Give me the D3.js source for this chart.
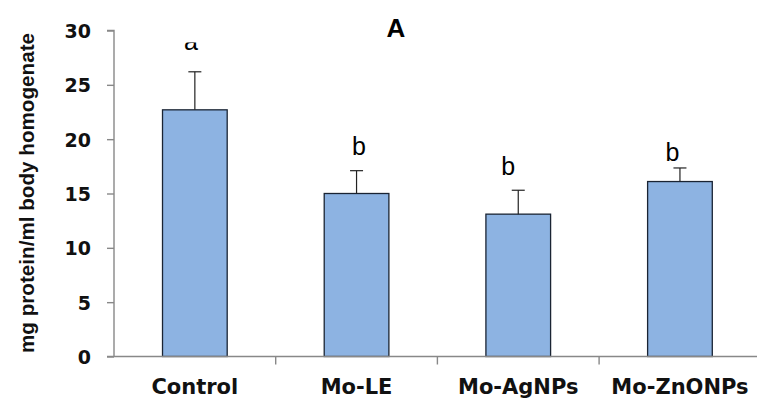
<!DOCTYPE html>
<html>
<head>
<meta charset="utf-8">
<script src="https://cdn.jsdelivr.net/npm/d3@7"></script>
<style>
  html, body { margin: 0; padding: 0; background: #fff; }
  svg { display: block; }
</style>
</head>
<body>
<svg id="chart" width="757" height="398"></svg>
<script>
// ---- data ----
const categories = ["Control", "Mo-LE", "Mo-AgNPs", "Mo-ZnONPs"];
const means = [22.7, 15.0, 13.1, 16.1];
const errors = [3.5, 2.1, 2.2, 1.25];
const letters = ["a", "b", "b", "b"];
const letterLevels = [28.25, 18.5, 16.7, 18.0];
const yTicks = [0, 5, 10, 15, 20, 25, 30];
const title = "A";
const yTitle = "mg protein/ml body homogenate";

// ---- layout ----
const W = 757, H = 398;
const axisX = 114, baseY = 356.5, topY = 30.5;
const step = 161.7;
const letterDx = [-4, 2.5, -10, -7.5];

const svg = d3.select("#chart");

const x = d3.scaleBand()
  .domain(categories)
  .range([axisX, axisX + step * categories.length])
  .paddingInner(0.6)
  .paddingOuter(0.3);

const y = d3.scaleLinear().domain([0, 30]).range([baseY, topY]);

// bars
svg.append("g").selectAll("rect")
  .data(categories)
  .join("rect")
  .attr("x", d => x(d))
  .attr("y", (d, i) => y(means[i]))
  .attr("width", x.bandwidth())
  .attr("height", (d, i) => baseY - y(means[i]))
  .attr("fill", "#8DB3E2")
  .attr("stroke", "#1a2433")
  .attr("stroke-width", 1.3);

// error bars
const eg = svg.append("g").attr("stroke", "#222").attr("stroke-width", 1.2);
categories.forEach((c, i) => {
  const cx = x(c) + x.bandwidth() / 2;
  eg.append("line").attr("x1", cx).attr("x2", cx)
    .attr("y1", y(means[i])).attr("y2", y(means[i] + errors[i]));
  eg.append("line").attr("x1", cx - 6.5).attr("x2", cx + 6.5)
    .attr("y1", y(means[i] + errors[i])).attr("y2", y(means[i] + errors[i]));
});

// y axis
const yAxis = d3.axisLeft(y).tickValues(yTicks).tickSize(7).tickPadding(16);
const yg = svg.append("g").attr("transform", `translate(${axisX},0)`).call(yAxis);
yg.select(".domain").attr("stroke", "#888").attr("stroke-width", 1.4)
  .attr("d", `M-7,${topY}H0V${baseY}`);
yg.selectAll(".tick line").attr("stroke", "#888").attr("stroke-width", 1.4);
yg.selectAll(".tick text")
  .attr("font-family", "DejaVu Sans, Verdana, sans-serif")
  .attr("font-weight", "bold")
  .attr("font-size", 19)
  .attr("fill", "#111")
  .attr("dy", "0.36em");

// x axis
svg.append("line")
  .attr("x1", axisX - 7).attr("x2", W)
  .attr("y1", baseY).attr("y2", baseY)
  .attr("stroke", "#888").attr("stroke-width", 1.4);
categories.slice(1).forEach(c => {
  const bx = x(c) - (x.step() - x.bandwidth()) / 2;
  svg.append("line").attr("x1", bx).attr("x2", bx)
    .attr("y1", baseY).attr("y2", baseY + 8)
    .attr("stroke", "#888").attr("stroke-width", 1.4);
});

// category labels
svg.append("g").selectAll("text")
  .data(categories)
  .join("text")
  .attr("x", d => x(d) + x.bandwidth() / 2)
  .attr("y", 394)
  .attr("text-anchor", "middle")
  .attr("font-family", "DejaVu Sans, Verdana, sans-serif")
  .attr("font-weight", "bold")
  .attr("font-size", 21)
  .attr("fill", "#111")
  .text(d => d);

// significance letters
svg.append("defs").append("clipPath").attr("id", "clipA")
  .append("rect").attr("x", 0).attr("y", 42.5).attr("width", W).attr("height", H);
svg.append("g").selectAll("text")
  .data(letters)
  .join("text")
  .attr("x", (d, i) => x(categories[i]) + x.bandwidth() / 2 + letterDx[i])
  .attr("y", (d, i) => y(letterLevels[i]))
  .attr("text-anchor", "middle")
  .attr("font-family", "Liberation Sans, Arial, sans-serif")
  .attr("font-size", 25)
  .attr("fill", "#000")
  .attr("clip-path", (d, i) => i === 0 ? "url(#clipA)" : null)
  .text(d => d);

// title
svg.append("text")
  .attr("x", 396).attr("y", 37)
  .attr("text-anchor", "middle")
  .attr("font-family", "Liberation Sans, Arial, sans-serif")
  .attr("font-weight", "bold")
  .attr("font-size", 26)
  .attr("fill", "#000")
  .text(title);

// y title
svg.append("text")
  .attr("transform", `translate(34,193) rotate(-90)`)
  .attr("text-anchor", "middle")
  .attr("font-family", "Liberation Sans, Arial, sans-serif")
  .attr("font-weight", "bold")
  .attr("font-size", 20)
  .attr("textLength", 320)
  .attr("lengthAdjust", "spacingAndGlyphs")
  .attr("fill", "#111")
  .text(yTitle);
</script>
</body>
</html>
